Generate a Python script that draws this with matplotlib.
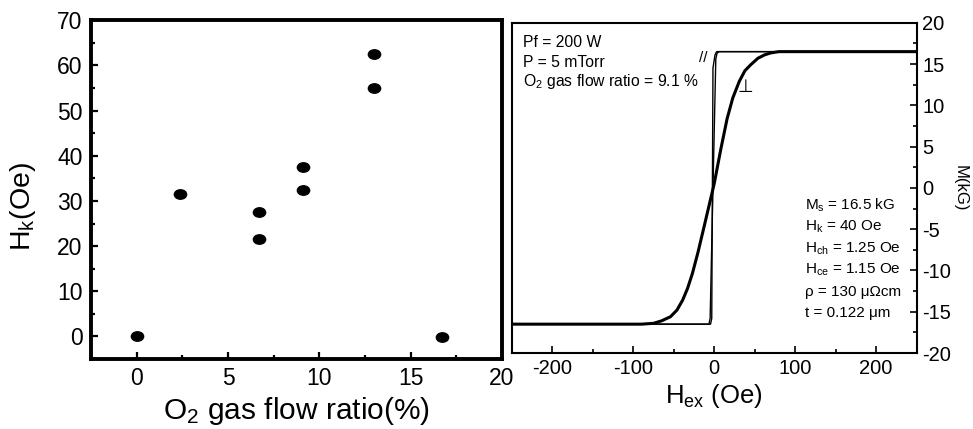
import matplotlib
matplotlib.use('Agg')
import matplotlib.pyplot as plt
from matplotlib.markers import MarkerStyle
from matplotlib.transforms import Affine2D
from matplotlib.ticker import MultipleLocator

plt.rcParams['font.family'] = ['Liberation Sans', 'DejaVu Sans']
plt.rcParams['mathtext.default'] = 'regular'
plt.rcParams['axes.unicode_minus'] = False

# left panel: anisotropy field vs O2 flow ratio
o2_ratio = [0.0, 2.4, 6.7, 6.7, 9.1, 9.1, 13.0, 13.0, 16.7]
hk_oe = [0.0, 31.5, 27.5, 21.5, 37.5, 32.5, 62.5, 55.0, -0.2]

# right panel: hysteresis loops
par_up_h = [-250, -6.5, -5, 2, 3.5, 6, 250]
par_up_m = [-16.5, -16.5, -15.8, 15.6, 16.3, 16.5, 16.5]
par_dn_h = [250, 3, 1, -1.5, -3, -4.5, -250]
par_dn_m = [16.5, 16.5, 16.1, 14.5, -15.8, -16.5, -16.5]

perp_h = [-250, -90, -75, -65, -54, -46, -39, -33, -27, -20, -12, -6, 0,
          8, 16, 23, 31, 38, 45, 54, 62, 70, 80, 250]
perp_m = [-16.5, -16.5, -16.4, -16.1, -15.6, -14.8, -13.6, -12.2, -10.4,
          -7.8, -4.5, -2.0, 0.5, 4.6, 8.4, 10.9, 12.9, 14.2, 14.9, 15.7,
          16.1, 16.35, 16.5, 16.5]

info_top = ['Pf = 200 W', 'P = 5 mTorr', 'O$_2$ gas flow ratio = 9.1 %']
info_bottom = ['M$_s$ = 16.5 kG', 'H$_k$ = 40 Oe', 'H$_{ch}$ = 1.25 Oe',
               'H$_{ce}$ = 1.15 Oe', '\u03c1 = 130 \u03bc\u03a9cm',
               't = 0.122 \u03bcm']

fig = plt.figure(figsize=(9.73, 4.29), dpi=100)

# ---- left ----
ax1 = fig.add_axes([0.0935, 0.163, 0.4224, 0.790])
dot = MarkerStyle('o', transform=Affine2D().scale(1.3, 1.0))
ax1.plot(o2_ratio, hk_oe, linestyle='none', marker=dot, markersize=6.8, color='black')
ax1.set_xlim(-2.5, 20)
ax1.set_ylim(-5, 70)
ax1.xaxis.set_major_locator(MultipleLocator(5))
ax1.xaxis.set_minor_locator(MultipleLocator(2.5))
ax1.yaxis.set_major_locator(MultipleLocator(10))
ax1.yaxis.set_minor_locator(MultipleLocator(5))
ax1.tick_params(which='both', direction='in', top=False, right=False, width=1.6)
ax1.tick_params(which='major', length=5, labelsize=16.5, pad=6)
ax1.tick_params(which='minor', length=3)
for s in ax1.spines.values():
    s.set_linewidth(2.8)
ax1.set_xlabel('O$_2$ gas flow ratio(%)', fontsize=21.5, labelpad=3)
ax1.set_ylabel('H$_k$(Oe)', fontsize=20.5)
ax1.yaxis.set_label_coords(-0.128, 0.45)

# ---- right ----
ax2 = fig.add_axes([0.5259, 0.177, 0.4162, 0.770])
ax2.plot(par_up_h, par_up_m, color='black', lw=1.0)
ax2.plot(par_dn_h, par_dn_m, color='black', lw=1.0)
ax2.plot(perp_h, perp_m, color='black', lw=2.2)
ax2.set_xlim(-250, 250)
ax2.set_ylim(-20, 20)
ax2.xaxis.set_major_locator(MultipleLocator(100))
ax2.xaxis.set_minor_locator(MultipleLocator(50))
ax2.yaxis.set_major_locator(MultipleLocator(5))
ax2.yaxis.set_minor_locator(MultipleLocator(2.5))
ax2.yaxis.tick_right()
ax2.yaxis.set_label_position('right')
ax2.tick_params(which='both', direction='in', top=False, left=False, width=1.2)
ax2.tick_params(which='major', length=5, labelsize=14.5, pad=4)
ax2.tick_params(which='minor', length=3)
for s in ax2.spines.values():
    s.set_linewidth(1.5)
ax2.set_xlabel('H$_{ex}$ (Oe)', fontsize=18.5, labelpad=3)
ax2.set_ylabel('M(kG)', fontsize=12, rotation=270, labelpad=12)

for i, t in enumerate(info_top):
    ax2.text(0.028, 0.941 - i * 0.06, t, transform=ax2.transAxes, fontsize=11.3,
             va='center', ha='left')
for i, t in enumerate(info_bottom):
    ax2.text(0.724, 0.448 - i * 0.0655, t, transform=ax2.transAxes, fontsize=11,
             va='center', ha='left')
ax2.text(-14, 15.7, '//', fontsize=11, ha='center', va='center')
ax2.text(39, 12.2, '\u22a5', fontsize=13, family=['DejaVu Sans'], ha='center', va='center')

fig.savefig('out.png', dpi=100)
